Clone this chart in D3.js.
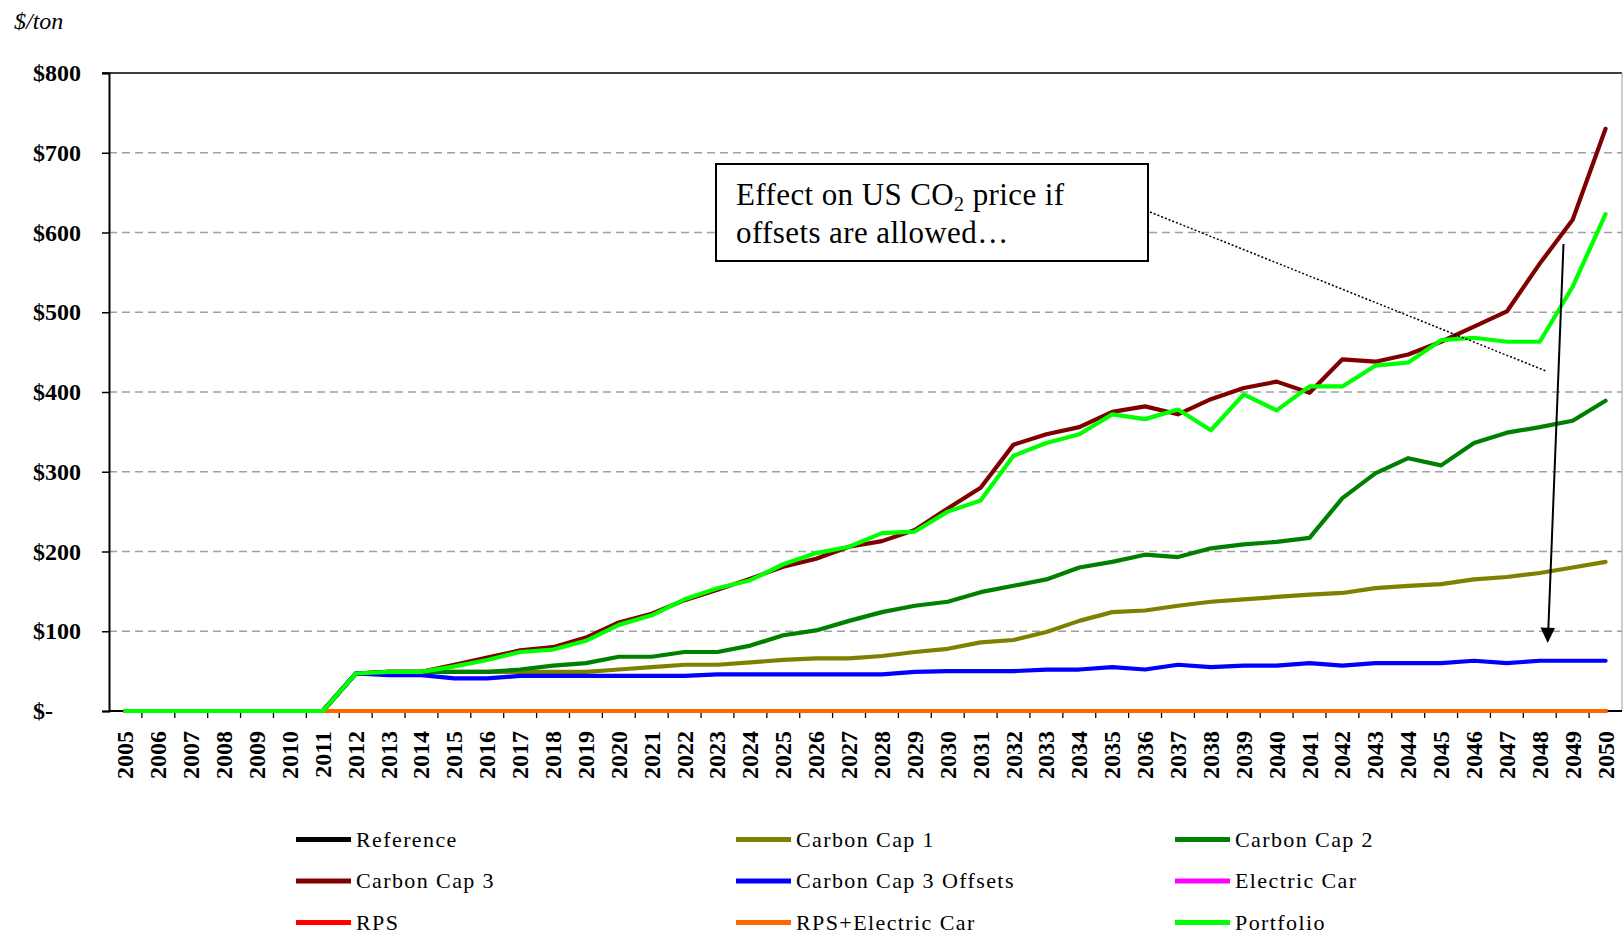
<!DOCTYPE html>
<html><head><meta charset="utf-8">
<script src="https://cdn.jsdelivr.net/npm/d3@7"></script>
<style>
html,body{margin:0;padding:0;background:#fff;}
svg{display:block;font-family:"Liberation Serif","Times New Roman",serif;}
</style></head>
<body>
<svg id="chart" width="1623" height="935"></svg>
<script>
const years = [2005,2006,2007,2008,2009,2010,2011,2012,2013,2014,2015,2016,2017,2018,2019,2020,2021,2022,2023,2024,2025,2026,2027,2028,2029,2030,2031,2032,2033,2034,2035,2036,2037,2038,2039,2040,2041,2042,2043,2044,2045,2046,2047,2048,2049,2050];
const yTicks = [0,100,200,300,400,500,600,700,800];
const yTickLabels = ["$-","$100","$200","$300","$400","$500","$600","$700","$800"];

const reference   = [0,0,0,0,0,0,0,0,0,0,0,0,0,0,0,0,0,0,0,0,0,0,0,0,0,0,0,0,0,0,0,0,0,0,0,0,0,0,0,0,0,0,0,0,0,0];
const carbonCap1  = [0,0,0,0,0,0,0,47,49,49,49,49,49,49,49,52,55,58,58,61,64,66,66,69,74,78,86,89,99,113,124,126,132,137,140,143,146,148,154,157,159,165,168,173,180,187];
const carbonCap2  = [0,0,0,0,0,0,0,47,49,49,49,49,52,57,60,68,68,74,74,82,95,101,113,124,132,137,149,157,165,180,187,196,193,204,209,212,217,267,298,317,308,336,349,356,364,389];
const carbonCap3  = [0,0,0,0,0,0,0,47,49,49,58,67,76,80,92,111,122,139,152,166,181,191,206,213,227,254,280,334,347,356,375,382,372,391,405,413,399,441,438,447,463,482,501,561,616,730];
const cc3Offsets  = [0,0,0,0,0,0,0,47,45,45,41,41,44,44,44,44,44,44,46,46,46,46,46,46,49,50,50,50,52,52,55,52,58,55,57,57,60,57,60,60,60,63,60,63,63,63];
const electricCar = [0,0,0,0,0,0,0,0,0,0,0,0,0,0,0,0,0,0,0,0,0,0,0,0,0,0,0,0,0,0,0,0,0,0,0,0,0,0,0,0,0,0,0,0,0,0];
const rps         = [0,0,0,0,0,0,0,0,0,0,0,0,0,0,0,0,0,0,0,0,0,0,0,0,0,0,0,0,0,0,0,0,0,0,0,0,0,0,0,0,0,0,0,0,0,0];
const rpsElectric = [0,0,0,0,0,0,0,0,0,0,0,0,0,0,0,0,0,0,0,0,0,0,0,0,0,0,0,0,0,0,0,0,0,0,0,0,0,0,0,0,0,0,0,0,0,0];
const portfolio   = [0,0,0,0,0,0,0,47,49,49,56,64,74,77,88,108,120,140,154,164,184,198,206,223,225,250,264,320,336,347,372,366,378,352,397,377,407,407,433,437,465,468,463,463,532,623];

const seriesNames = ["Reference","Carbon Cap 1","Carbon Cap 2","Carbon Cap 3","Carbon Cap 3 Offsets","Electric Car","RPS","RPS+Electric Car","Portfolio"];
const seriesColors = ["#000000","#808000","#008000","#800000","#0000FF","#FF00FF","#FF0000","#FF6600","#00FF00"];
const seriesValues = [reference,carbonCap1,carbonCap2,carbonCap3,cc3Offsets,electricCar,rps,rpsElectric,portfolio];

const annotationLines = ["Effect on US CO", "offsets are allowed…"];

const svg = d3.select("#chart");
const L = 109, R = 1622, T = 73, B = 711;

const x = d3.scaleBand().domain(years).range([L, R]).paddingInner(0).paddingOuter(0);
const y = d3.scaleLinear().domain([0, 800]).range([B, T]);
const cx = d => x(d) + x.bandwidth() / 2;

// gridlines
svg.append("g").selectAll("line").data(yTicks.filter(v => v > 0 && v < 800)).join("line")
  .attr("x1", L).attr("x2", R).attr("y1", d => y(d)).attr("y2", d => y(d))
  .attr("stroke", "#a0a0a0").attr("stroke-width", 1.3).attr("stroke-dasharray", "8,5");

// top border & right border
svg.append("line").attr("x1", L - 7).attr("x2", R).attr("y1", y(800)).attr("y2", y(800))
  .attr("stroke", "#000").attr("stroke-width", 1.6);
svg.append("line").attr("x1", R).attr("x2", R).attr("y1", y(800)).attr("y2", B)
  .attr("stroke", "#a0a0a0").attr("stroke-width", 1);

// y axis
const yAxis = d3.axisLeft(y).tickValues(yTicks).tickSize(7).tickFormat("");
const gy = svg.append("g").attr("transform", `translate(${L},0)`).call(yAxis);
gy.select(".domain").attr("stroke", "#000").attr("stroke-width", 2);
gy.selectAll(".tick line").attr("stroke", "#000").attr("stroke-width", 1.5);
svg.append("g").selectAll("text").data(yTicks).join("text")
  .attr("x", (d, i) => i === 0 ? 33 : 81)
  .attr("y", d => y(d) + 8)
  .attr("text-anchor", (d, i) => i === 0 ? "start" : "end")
  .attr("font-size", 24).attr("font-weight", "bold")
  .text((d, i) => yTickLabels[i]);

// x axis ticks at band boundaries
const gx = svg.append("g").attr("transform", `translate(0,${B})`);
gx.append("line").attr("x1", L).attr("x2", R).attr("y1", 0).attr("y2", 0).attr("stroke", "#000").attr("stroke-width", 2);
gx.selectAll("line.tk").data(years.slice(1)).join("line").attr("class", "tk")
  .attr("x1", d => x(d)).attr("x2", d => x(d)).attr("y1", 0).attr("y2", 7)
  .attr("stroke", "#000").attr("stroke-width", 1.3);
gx.selectAll("text").data(years).join("text")
  .attr("transform", d => `translate(${cx(d) + 8},20) rotate(-90)`)
  .attr("text-anchor", "end")
  .attr("font-size", 24).attr("font-weight", "bold")
  .text(d => d);

// unit label
svg.append("text").attr("x", 14).attr("y", 29).attr("font-size", 24).attr("font-style", "italic").text("$/ton");

// lines
const line = d3.line().x((d, i) => cx(years[i])).y(d => y(d));
svg.append("g").selectAll("path").data(seriesValues).join("path")
  .attr("d", d => line(d)).attr("fill", "none")
  .attr("stroke", (d, i) => seriesColors[i]).attr("stroke-width", 4.2)
  .attr("stroke-linejoin", "round").attr("stroke-linecap", "round");

// annotation box
svg.append("rect").attr("x", 716).attr("y", 164).attr("width", 432).attr("height", 97)
  .attr("fill", "#fff").attr("stroke", "#000").attr("stroke-width", 2);
const t1 = svg.append("text").attr("x", 736).attr("y", 205).attr("font-size", 31).attr("letter-spacing", 0.4);
t1.append("tspan").text(annotationLines[0]);
t1.append("tspan").attr("font-size", 20).attr("dy", 6).text("2");
t1.append("tspan").attr("dy", -6).text(" price if");
svg.append("text").attr("x", 736).attr("y", 243).attr("font-size", 31).attr("letter-spacing", 0.4).text(annotationLines[1]);

// dotted leader line
svg.append("line").attr("x1", 1150).attr("y1", 212).attr("x2", 1546).attr("y2", 371)
  .attr("stroke", "#000").attr("stroke-width", 1.5).attr("stroke-dasharray", "2,2");

// arrow
svg.append("line").attr("x1", 1563.5).attr("y1", 244).attr("x2", 1548.3).attr("y2", 630)
  .attr("stroke", "#000").attr("stroke-width", 2);
svg.append("path").attr("d", "M1547.7,643 L1540.5,627.5 L1555,628 Z").attr("fill", "#000");

// legend
const legX = [296, 736, 1175];
const legY = [839.5, 881, 922.5];
const lg = svg.append("g").selectAll("g").data(seriesNames).join("g")
  .attr("transform", (d, i) => `translate(${legX[i % 3]},${legY[Math.floor(i / 3)]})`);
lg.append("line").attr("x1", 0).attr("x2", 55).attr("y1", 0).attr("y2", 0)
  .attr("stroke", (d, i) => seriesColors[i]).attr("stroke-width", 5);
lg.append("text").attr("x", 60).attr("y", 7).attr("font-size", 22).attr("letter-spacing", 1.4).text(d => d);
</script>
</body></html>
